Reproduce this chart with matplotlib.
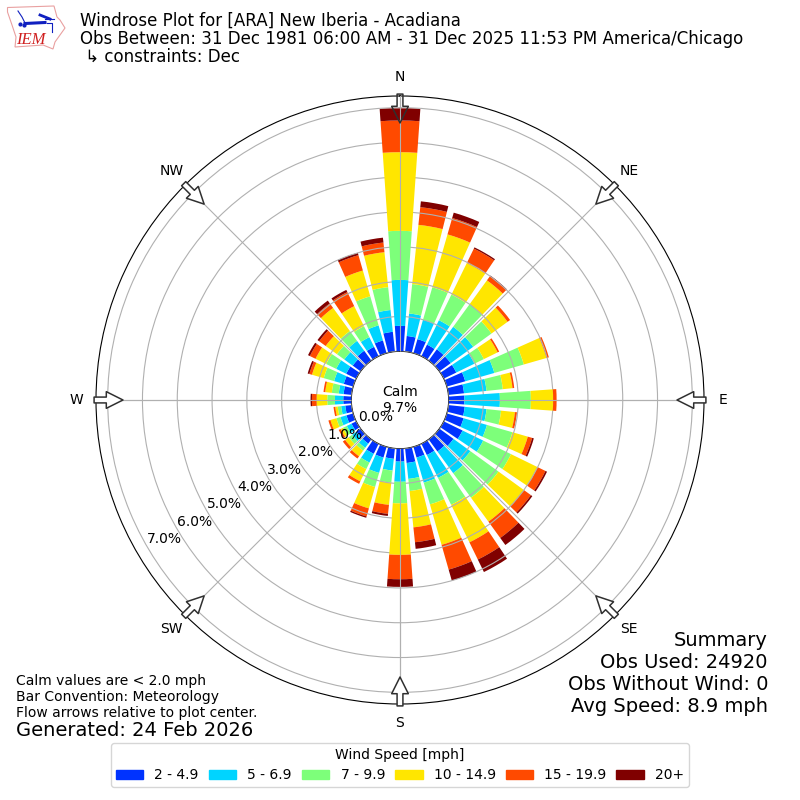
import numpy as np
import matplotlib
matplotlib.use('Agg')
import matplotlib.pyplot as plt
from matplotlib.patches import Patch, Polygon

# wind direction of each bar, degrees
directions = np.arange(0, 360, 10)

# cumulative frequency (%) at the top of each speed class
top_2_5 = [.73, .45, .42, .37, .40, .40, .40, .55, .45, .45, .47, .50, .60, .50, .43, .36, .32, .42,
           .37, .30, .32, .32, .15, .15, .15, .20, .18, .23, .23, .28, .32, .28, .35, .30, .38, .57]
top_5_7 = [2.05, 1.10, 1.00, 1.15, 1.20, 1.20, .98, 1.42, 1.10, 1.47, 1.10, 1.20, 1.26, 1.10, 1.20, 1.09, 1.07, .88,
           .95, .64, .78, .60, .30, .30, .30, .38, .30, .47, .37, .57, .64, .58, .70, .61, .83, 1.20]
top_7_10 = [3.46, 1.95, 1.97, 1.97, 2.00, 1.85, 1.28, 2.30, 1.57, 2.36, 1.52, 1.96, 2.15, 2.10, 2.07, 1.95, 1.72, 1.23,
            1.57, .99, 1.20, .81, .40, .42, .42, .50, .40, .69, .57, .88, .96, .84, 1.05, .96, 1.70, 1.86]
top_10_15 = [5.72, 3.66, 3.55, 2.98, 2.85, 2.42, 1.72, 2.98, 1.85, 3.00, 1.92, 2.42, 3.00, 3.00, 2.92, 3.15, 2.93, 2.28,
             3.05, 1.63, 1.84, 1.20, .60, .55, .50, .68, .47, 1.00, .76, 1.23, 1.30, 1.24, 1.87, 1.60, 2.47, 2.87]
top_15_20 = [6.63, 4.17, 4.04, 3.44, 3.00, 2.51, 1.77, 3.05, 1.90, 3.10, 1.98, 2.55, 3.25, 3.25, 3.50, 3.70, 3.67, 2.71,
             3.75, 1.89, 2.08, 1.28, .68, .63, .56, .74, .52, 1.13, .81, 1.31, 1.48, 1.47, 2.03, 2.05, 2.93, 3.15]
top_20 = [6.98, 4.34, 4.20, 3.48, 3.02, 2.51, 1.77, 3.05, 1.90, 3.10, 1.98, 2.60, 3.30, 3.30, 3.75, 4.10, 4.00, 2.90,
          3.97, 1.95, 2.12, 1.28, .68, .63, .56, .74, .52, 1.17, .81, 1.36, 1.54, 1.53, 2.13, 2.12, 3.00, 3.29]
top_table = [top_2_5, top_5_7, top_7_10, top_10_15, top_15_20, top_20]

speed_labels = ['2 - 4.9', '5 - 6.9', '7 - 9.9', '10 - 14.9', '15 - 19.9', '20+']
speed_colors = ['#0033ff', '#00d4ff', '#7dff7a', '#ffe600', '#ff4a00', '#800000']

compass = ['N', 'NE', 'E', 'SE', 'S', 'SW', 'W', 'NW']
compass_deg = [0, 45, 90, 135, 180, 225, 270, 315]
ring_ticks = [0, 1, 2, 3, 4, 5, 6, 7]

fig = plt.figure(figsize=(8, 8), dpi=100)
ax = fig.add_axes([0.12, 0.12, 0.76, 0.76], projection='polar')
ax.set_theta_zero_location('N')
ax.set_theta_direction(-1)

theta = np.radians(directions)
bottom = np.zeros(len(directions))
for tops, color in zip(top_table, speed_colors):
    tops = np.array(tops)
    bars = ax.bar(theta, tops - bottom, width=np.radians(8), bottom=bottom, color=color, linewidth=0, zorder=2)
    # the four bars on the main axes sit above the rings
    for i in range(0, 36, 9):
        bars[i].set_zorder(3)
    bottom = tops

ax.set_rorigin(-1.4)
ax.set_rlim(0, 7.335)
ax.set_yticks(ring_ticks)
ax.set_yticklabels(['%.1f%%' % t for t in ring_ticks])
ax.set_rlabel_position(240)
ax.set_xticks(np.radians(compass_deg))
ax.set_xticklabels(compass)
ax.grid(True, color='#b0b0b0', linewidth=0.8)
ax.set_axisbelow(False)

# spoke stays visible on those bars
for deg in [0, 90, 180, 270]:
    t = np.radians(deg)
    ax.plot([t, t], [0, 7.335], color='#b0b0b0', linewidth=0.8, zorder=3.1)

# the calm hole in the middle
ax.text(0.5, 0.5, 'Calm\n9.7%', transform=ax.transAxes, ha='center', va='center', zorder=5)

# flow arrows pointing at plot center
for deg in compass_deg:
    t = np.radians(deg)
    ax.annotate('', xy=(t, 6.56), xytext=(t, 7.39), annotation_clip=False, zorder=4,
                arrowprops=dict(width=4.2, headwidth=12, headlength=12, linewidth=1.1,
                                edgecolor='#303030', facecolor='none' if deg == 0 else 'white',
                                shrink=0))

fig.text(0.1, 0.985, 'Windrose Plot for [ARA] New Iberia - Acadiana\n'
         'Obs Between: 31 Dec 1981 06:00 AM - 31 Dec 2025 11:53 PM America/Chicago\n'
         ' \u21b3 constraints: Dec', fontsize=12, va='top', ha='left', linespacing=1.0)
fig.text(0.96, 0.105, 'Summary\nObs Used: 24920\nObs Without Wind: 0\nAvg Speed: 8.9 mph',
         fontsize=14, ha='right', va='bottom', multialignment='right')
fig.text(0.02, 0.1, 'Calm values are < 2.0 mph\nBar Convention: Meteorology\nFlow arrows relative to plot center.',
         fontsize=10, ha='left', va='bottom')
fig.text(0.02, 0.0755, 'Generated: 24 Feb 2026', fontsize=14, ha='left', va='bottom')

handles = [Patch(color=c, label=l) for c, l in zip(speed_colors, speed_labels)]
fig.legend(handles=handles, title='Wind Speed [mph]', ncol=6, loc='lower center',
           bbox_to_anchor=(0.5, 0.008), fontsize=10, title_fontsize=10, columnspacing=0.7, borderpad=0.3)

# IEM logo, pixel coordinates
logo = fig.add_axes([0, 1 - 55 / 800, 75 / 800, 55 / 800])
logo.set_xlim(0, 75)
logo.set_ylim(55, 0)
logo.axis('off')
outline = [(7.5, 7.5), (54, 6), (57, 17), (60, 20), (65, 28), (60, 35), (55, 42), (53, 49),
           (43, 45), (15, 47), (16, 37), (12, 25), (7.5, 12)]
logo.add_patch(Polygon(outline, closed=True, fill=False, edgecolor='#e9a0a0', linewidth=0.8))
logo.plot([25, 45], [23.5, 22.5], color='#1020c0', linewidth=2.2)
logo.plot([45, 54], [19, 19], color='#1020c0', linewidth=0.8)
logo.plot([40, 50], [15, 19], color='#1020c0', linewidth=2)
logo.plot([18, 22, 25], [11, 17, 23], color='#1020c0', linewidth=0.8)
logo.plot([47, 52, 52], [23, 23, 32], color='#1020c0', linewidth=0.8)
logo.plot([20, 24], [24, 25], color='#1020c0', marker='o', markersize=2, linewidth=0)
logo.text(16, 44.5, 'IEM', family='Liberation Serif', style='italic', color='#d02020', fontsize=12, va='baseline')

fig.savefig('out.png', dpi=100)
